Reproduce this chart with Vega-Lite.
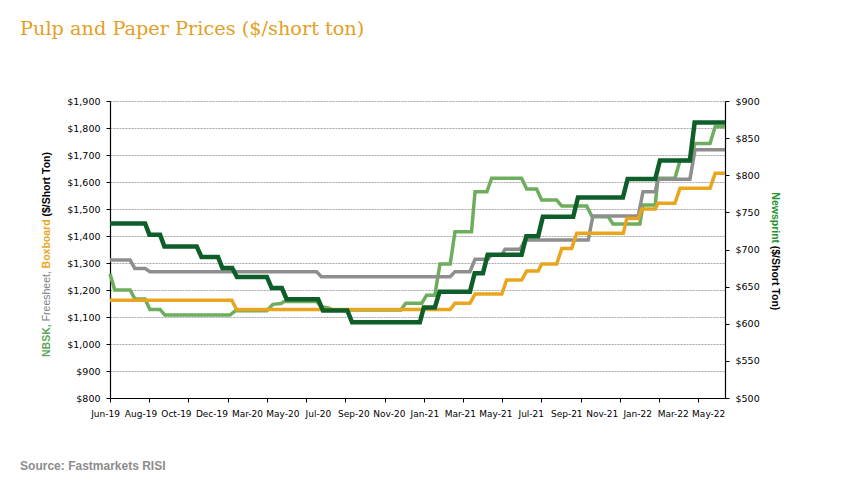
{
  "$schema": "https://vega.github.io/schema/vega-lite/v6.json",
  "width": 615,
  "height": 297,
  "autosize": {"type": "none"},
  "padding": {"left": 110, "top": 101, "right": 132, "bottom": 84},
  "background": "white",
  "config": {
    "view": {"stroke": null},
    "axis": {
      "labelFont": "DejaVu Sans",
      "labelFontSize": 9.5,
      "labelColor": "#000000",
      "labelOverlap": false,
      "labelBound": false,
      "domainColor": "#000000",
      "domainWidth": 1.2,
      "tickColor": "#000000",
      "tickSize": 4,
      "labelPadding": 6,
      "gridColor": "#a6a6a6",
      "gridDash": [2, 1],
      "gridWidth": 1
    }
  },
  "title": {
    "text": "Pulp and Paper Prices ($/short ton)",
    "anchor": "start",
    "frame": "group",
    "dx": -90,
    "offset": 57,
    "font": "DejaVu Serif",
    "fontSize": 19.3,
    "fontWeight": "normal",
    "color": "#E39F26"
  },
  "datasets": {
    "prices": [
      {"s": "NBSK", "i": 0, "v": 1260}, {"s": "NBSK", "i": 1.2, "v": 1200}, {"s": "NBSK", "i": 5.1, "v": 1200}, {"s": "NBSK", "i": 6.3, "v": 1167},
      {"s": "NBSK", "i": 8.9, "v": 1167}, {"s": "NBSK", "i": 10.1, "v": 1128}, {"s": "NBSK", "i": 12.7, "v": 1128}, {"s": "NBSK", "i": 13.9, "v": 1107},
      {"s": "NBSK", "i": 30.4, "v": 1107}, {"s": "NBSK", "i": 31.8, "v": 1123}, {"s": "NBSK", "i": 39.8, "v": 1123}, {"s": "NBSK", "i": 41.3, "v": 1147},
      {"s": "NBSK", "i": 43.4, "v": 1150}, {"s": "NBSK", "i": 44.2, "v": 1157}, {"s": "NBSK", "i": 52.4, "v": 1157}, {"s": "NBSK", "i": 53.6, "v": 1138},
      {"s": "NBSK", "i": 55.4, "v": 1134}, {"s": "NBSK", "i": 56.6, "v": 1126}, {"s": "NBSK", "i": 73.8, "v": 1126}, {"s": "NBSK", "i": 75, "v": 1151},
      {"s": "NBSK", "i": 79.1, "v": 1151}, {"s": "NBSK", "i": 80.3, "v": 1181}, {"s": "NBSK", "i": 82.4, "v": 1181}, {"s": "NBSK", "i": 83.7, "v": 1296},
      {"s": "NBSK", "i": 86.3, "v": 1296}, {"s": "NBSK", "i": 87.5, "v": 1416}, {"s": "NBSK", "i": 91.7, "v": 1416}, {"s": "NBSK", "i": 92.6, "v": 1564},
      {"s": "NBSK", "i": 95.6, "v": 1564}, {"s": "NBSK", "i": 96.8, "v": 1614}, {"s": "NBSK", "i": 104.4, "v": 1614}, {"s": "NBSK", "i": 105.7, "v": 1574},
      {"s": "NBSK", "i": 108.2, "v": 1574}, {"s": "NBSK", "i": 109.5, "v": 1533}, {"s": "NBSK", "i": 113.3, "v": 1533}, {"s": "NBSK", "i": 114.6, "v": 1511},
      {"s": "NBSK", "i": 120.9, "v": 1511}, {"s": "NBSK", "i": 122.3, "v": 1471}, {"s": "NBSK", "i": 126.4, "v": 1471}, {"s": "NBSK", "i": 127.6, "v": 1444},
      {"s": "NBSK", "i": 134.4, "v": 1444}, {"s": "NBSK", "i": 135.2, "v": 1515}, {"s": "NBSK", "i": 138.3, "v": 1515}, {"s": "NBSK", "i": 139, "v": 1614},
      {"s": "NBSK", "i": 143.3, "v": 1614}, {"s": "NBSK", "i": 144.6, "v": 1680}, {"s": "NBSK", "i": 147.1, "v": 1680}, {"s": "NBSK", "i": 148.4, "v": 1743},
      {"s": "NBSK", "i": 152.2, "v": 1743}, {"s": "NBSK", "i": 153.5, "v": 1805}, {"s": "NBSK", "i": 156, "v": 1805},

      {"s": "Freesheet", "i": 0, "v": 1311}, {"s": "Freesheet", "i": 5.1, "v": 1311}, {"s": "Freesheet", "i": 6.3, "v": 1280}, {"s": "Freesheet", "i": 8.9, "v": 1280},
      {"s": "Freesheet", "i": 10.1, "v": 1268}, {"s": "Freesheet", "i": 52.4, "v": 1268}, {"s": "Freesheet", "i": 53.6, "v": 1249}, {"s": "Freesheet", "i": 86.3, "v": 1249},
      {"s": "Freesheet", "i": 87.5, "v": 1268}, {"s": "Freesheet", "i": 91.3, "v": 1268}, {"s": "Freesheet", "i": 92.6, "v": 1314}, {"s": "Freesheet", "i": 95.9, "v": 1314},
      {"s": "Freesheet", "i": 96.8, "v": 1330}, {"s": "Freesheet", "i": 99.4, "v": 1330}, {"s": "Freesheet", "i": 100.2, "v": 1351}, {"s": "Freesheet", "i": 104, "v": 1351},
      {"s": "Freesheet", "i": 105.3, "v": 1385}, {"s": "Freesheet", "i": 121.3, "v": 1385}, {"s": "Freesheet", "i": 122.5, "v": 1474}, {"s": "Freesheet", "i": 134, "v": 1474},
      {"s": "Freesheet", "i": 135.2, "v": 1564}, {"s": "Freesheet", "i": 138.3, "v": 1564}, {"s": "Freesheet", "i": 139, "v": 1610}, {"s": "Freesheet", "i": 147.1, "v": 1610},
      {"s": "Freesheet", "i": 148.4, "v": 1719}, {"s": "Freesheet", "i": 156, "v": 1719},

      {"s": "Boxboard", "i": 0, "v": 1162}, {"s": "Boxboard", "i": 30.9, "v": 1162}, {"s": "Boxboard", "i": 32.1, "v": 1128}, {"s": "Boxboard", "i": 86.3, "v": 1128},
      {"s": "Boxboard", "i": 87.5, "v": 1151}, {"s": "Boxboard", "i": 91.3, "v": 1151}, {"s": "Boxboard", "i": 92.6, "v": 1185}, {"s": "Boxboard", "i": 99.4, "v": 1185},
      {"s": "Boxboard", "i": 100.6, "v": 1237}, {"s": "Boxboard", "i": 104.4, "v": 1237}, {"s": "Boxboard", "i": 105.7, "v": 1270}, {"s": "Boxboard", "i": 108.6, "v": 1270},
      {"s": "Boxboard", "i": 109.5, "v": 1296}, {"s": "Boxboard", "i": 113.3, "v": 1296}, {"s": "Boxboard", "i": 114.6, "v": 1354}, {"s": "Boxboard", "i": 117.1, "v": 1354},
      {"s": "Boxboard", "i": 118.4, "v": 1410}, {"s": "Boxboard", "i": 130.2, "v": 1410}, {"s": "Boxboard", "i": 131.1, "v": 1465}, {"s": "Boxboard", "i": 134, "v": 1465},
      {"s": "Boxboard", "i": 134.9, "v": 1500}, {"s": "Boxboard", "i": 138.3, "v": 1500}, {"s": "Boxboard", "i": 139, "v": 1521}, {"s": "Boxboard", "i": 143.3, "v": 1521},
      {"s": "Boxboard", "i": 144.6, "v": 1577}, {"s": "Boxboard", "i": 152.2, "v": 1577}, {"s": "Boxboard", "i": 153.5, "v": 1632}, {"s": "Boxboard", "i": 156, "v": 1632},

      {"s": "Newsprint", "i": 0, "v": 735}, {"s": "Newsprint", "i": 8.9, "v": 735}, {"s": "Newsprint", "i": 10, "v": 720}, {"s": "Newsprint", "i": 12.7, "v": 720},
      {"s": "Newsprint", "i": 13.8, "v": 704}, {"s": "Newsprint", "i": 22, "v": 704}, {"s": "Newsprint", "i": 23.2, "v": 690}, {"s": "Newsprint", "i": 27.4, "v": 690},
      {"s": "Newsprint", "i": 28.5, "v": 675}, {"s": "Newsprint", "i": 31, "v": 675}, {"s": "Newsprint", "i": 32.2, "v": 663}, {"s": "Newsprint", "i": 39.8, "v": 663},
      {"s": "Newsprint", "i": 41, "v": 648}, {"s": "Newsprint", "i": 43.6, "v": 648}, {"s": "Newsprint", "i": 44.8, "v": 633}, {"s": "Newsprint", "i": 52.8, "v": 633},
      {"s": "Newsprint", "i": 54, "v": 618}, {"s": "Newsprint", "i": 60.2, "v": 618}, {"s": "Newsprint", "i": 61.4, "v": 602}, {"s": "Newsprint", "i": 78.6, "v": 602},
      {"s": "Newsprint", "i": 79.6, "v": 622}, {"s": "Newsprint", "i": 82.4, "v": 622}, {"s": "Newsprint", "i": 83.6, "v": 643}, {"s": "Newsprint", "i": 91.3, "v": 643},
      {"s": "Newsprint", "i": 92.5, "v": 668}, {"s": "Newsprint", "i": 94.6, "v": 668}, {"s": "Newsprint", "i": 95.8, "v": 693}, {"s": "Newsprint", "i": 104.4, "v": 693},
      {"s": "Newsprint", "i": 105.6, "v": 718}, {"s": "Newsprint", "i": 108.6, "v": 718}, {"s": "Newsprint", "i": 109.8, "v": 744}, {"s": "Newsprint", "i": 117.5, "v": 744},
      {"s": "Newsprint", "i": 118.7, "v": 770}, {"s": "Newsprint", "i": 130.1, "v": 770}, {"s": "Newsprint", "i": 131.3, "v": 795}, {"s": "Newsprint", "i": 138.3, "v": 795},
      {"s": "Newsprint", "i": 139.5, "v": 820}, {"s": "Newsprint", "i": 147.1, "v": 820}, {"s": "Newsprint", "i": 148.3, "v": 871}, {"s": "Newsprint", "i": 156, "v": 871}
    ]
  },
  "layer": [
    {
      "layer": [
        {
          "data": {"name": "prices"},
          "transform": [{"filter": "datum.s === 'NBSK'"}],
          "mark": {"type": "line", "color": "#6FAD5E", "strokeWidth": 3.5},
          "encoding": {
            "x": {"field": "i", "type": "quantitative", "scale": {"domain": [0, 156], "nice": false, "zero": false},
              "axis": {"orient": "bottom", "title": null, "grid": false, "ticks": true, "domain": true, "tickCount": 200,
                "labelOverlap": false, "labelFlush": false, "labelBound": false, "labelFontSize": 9,
                "values": [0, 9, 9.95, 18, 19.9, 27, 29.85, 36, 39.8, 45, 49.75, 54, 59.7, 63, 69.65, 72, 79.6, 81, 89.55, 90, 99, 99.5, 108, 109.45, 117, 119.4, 126, 129.35, 135, 139.3, 144, 149.25, 153],
                "tickOpacity": {"condition": {"test": "abs(datum.value / 9.95 - round(datum.value / 9.95)) < 0.001", "value": 1}, "value": 0},
                "labelOffset": -5, "labelPadding": 7,
                "labelExpr": "abs(datum.value / 9 - round(datum.value / 9)) < 0.001 ? ['Jun-19','Aug-19','Oct-19','Dec-19','Mar-20','May-20','Jul-20','Sep-20','Nov-20','Jan-21','Mar-21','May-21','Jul-21','Sep-21','Nov-21','Jan-22','Mar-22','May-22'][round(datum.value/9)] : ''"}},
            "y": {"field": "v", "type": "quantitative", "scale": {"domain": [800, 1900], "nice": false, "zero": false},
              "axis": {"orient": "left", "title": null, "grid": true, "format": "$,.0f", "labelOverlap": false, "tickCount": 200,
                "values": [800, 900, 1000, 1100, 1200, 1300, 1400, 1500, 1600, 1700, 1800, 1900]}}
          }
        },
        {
          "data": {"name": "prices"},
          "transform": [{"filter": "datum.s === 'Freesheet'"}],
          "mark": {"type": "line", "color": "#8E8E8E", "strokeWidth": 3.5},
          "encoding": {
            "x": {"field": "i", "type": "quantitative"},
            "y": {"field": "v", "type": "quantitative"}
          }
        },
        {
          "data": {"name": "prices"},
          "transform": [{"filter": "datum.s === 'Boxboard'"}],
          "mark": {"type": "line", "color": "#E9A51E", "strokeWidth": 3.5},
          "encoding": {
            "x": {"field": "i", "type": "quantitative"},
            "y": {"field": "v", "type": "quantitative"}
          }
        },
        {
          "data": {"values": [{}]},
          "mark": {"type": "text", "text": "NBSK,", "angle": 270, "align": "left", "baseline": "middle", "font": "Liberation Sans", "fontSize": 10.5, "fontWeight": "bold", "color": "#5CA85A"},
          "encoding": {"x": {"datum": -16, "type": "quantitative"}, "y": {"datum": 952, "type": "quantitative"}}
        },
        {
          "data": {"values": [{}]},
          "mark": {"type": "text", "text": "Freesheet,", "angle": 270, "align": "left", "baseline": "middle", "font": "Liberation Sans", "fontSize": 10.5, "fontWeight": "normal", "color": "#808080"},
          "encoding": {"x": {"datum": -16, "type": "quantitative"}, "y": {"datum": 1084, "type": "quantitative"}}
        },
        {
          "data": {"values": [{}]},
          "mark": {"type": "text", "text": "Boxboard", "angle": 270, "align": "left", "baseline": "middle", "font": "Liberation Sans", "fontSize": 10.5, "fontWeight": "bold", "color": "#E9A51E"},
          "encoding": {"x": {"datum": -16, "type": "quantitative"}, "y": {"datum": 1280, "type": "quantitative"}}
        },
        {
          "data": {"values": [{}]},
          "mark": {"type": "text", "text": "($/Short Ton)", "angle": 270, "align": "left", "baseline": "middle", "font": "Liberation Sans", "fontSize": 10.5, "fontWeight": "bold", "color": "#000000"},
          "encoding": {"x": {"datum": -16, "type": "quantitative"}, "y": {"datum": 1472, "type": "quantitative"}}
        },
        {
          "data": {"values": [{}]},
          "mark": {"type": "text", "text": "Source:  Fastmarkets RISI", "align": "left", "baseline": "middle", "font": "Liberation Sans", "fontSize": 12, "fontWeight": "bold", "color": "#8C8C8C"},
          "encoding": {"x": {"datum": -22.8, "type": "quantitative"}, "y": {"datum": 548, "type": "quantitative"}}
        }
      ]
    },
    {
      "layer": [
        {
          "data": {"name": "prices"},
          "transform": [{"filter": "datum.s === 'Newsprint'"}],
          "mark": {"type": "line", "color": "#0E5E2A", "strokeWidth": 4.5},
          "encoding": {
            "x": {"field": "i", "type": "quantitative"},
            "y": {"field": "v", "type": "quantitative", "scale": {"domain": [500, 900], "nice": false, "zero": false},
              "axis": {"orient": "right", "title": null, "grid": false, "format": "$,.0f", "labelOverlap": false, "tickCount": 200,
                "values": [500, 550, 600, 650, 700, 750, 800, 850, 900]}}
          }
        },
        {
          "data": {"values": [{}]},
          "mark": {"type": "text", "text": "Newsprint", "angle": 90, "align": "left", "baseline": "middle", "font": "Liberation Sans", "fontSize": 10.5, "fontWeight": "bold", "color": "#23922F"},
          "encoding": {"x": {"datum": 168.6, "type": "quantitative"}, "y": {"datum": 777, "type": "quantitative"}}
        },
        {
          "data": {"values": [{}]},
          "mark": {"type": "text", "text": "($/Short Ton)", "angle": 90, "align": "left", "baseline": "middle", "font": "Liberation Sans", "fontSize": 10.5, "fontWeight": "bold", "color": "#000000"},
          "encoding": {"x": {"datum": 168.6, "type": "quantitative"}, "y": {"datum": 705, "type": "quantitative"}}
        }
      ]
    }
  ],
  "resolve": {"scale": {"y": "independent"}, "axis": {"y": "independent"}}
}
